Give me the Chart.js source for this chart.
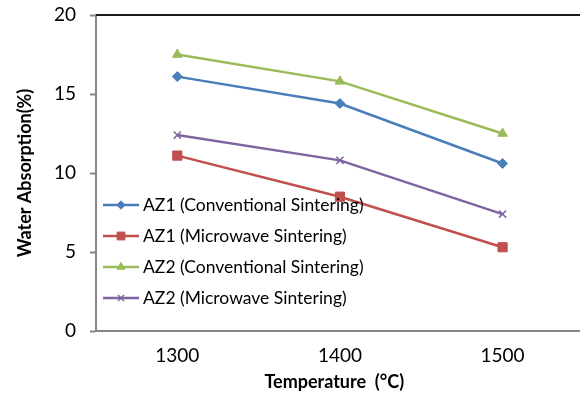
<!DOCTYPE html>
<html>
<head>
<meta charset="utf-8">
<script src="https://cdn.jsdelivr.net/npm/chart.js@4.4.0/dist/chart.umd.min.js"></script>
<style>
  html, body { margin: 0; padding: 0; background: #fff; }
  #wrap { width: 580px; height: 394px; }
</style>
</head>
<body>
<div id="wrap"><canvas id="chart" width="580" height="394"></canvas></div>
<script>
// values
const temps = [1300, 1400, 1500];
const seriesNames = [
  "AZ1 (Conventional Sintering)",
  "AZ1 (Microwave Sintering)",
  "AZ2 (Conventional Sintering)",
  "AZ2 (Microwave Sintering)",
];
const az1Conv = [16.1, 14.4, 10.6];
const az1Micro = [11.1, 8.5, 5.3];
const az2Conv = [17.5, 15.8, 12.5];
const az2Micro = [12.4, 10.8, 7.4];
const yTicks = [0, 5, 10, 15, 20];

const colors = ["#4A7EBB", "#C0504D", "#9BBB59", "#8064A2"];
const styles = ["rectRot", "rect", "triangle", "crossRot"];
const radii = [5, 6.5, 5.5, 5];
const allValues = [az1Conv, az1Micro, az2Conv, az2Micro];

const FONT = "Lato";

const datasets = allValues.map((vals, i) => ({
  label: seriesNames[i],
  data: vals.map((v, j) => ({ x: temps[j], y: v })),
  borderColor: colors[i],
  backgroundColor: colors[i],
  borderWidth: 2.5,
  pointStyle: styles[i],
  pointRadius: radii[i],
  pointBorderWidth: styles[i] === "crossRot" ? 1.5 : 1,
  pointBorderColor: colors[i],
  pointBackgroundColor: colors[i],
  tension: 0,
}));

// top frame line, axis run-out to the edge, legend inside the plot area
const extras = {
  id: "extras",
  afterDraw(chart) {
    const ctx = chart.ctx;
    const area = chart.chartArea;
    ctx.save();
    ctx.strokeStyle = "#1a1a1a";
    ctx.lineWidth = 2;
    ctx.beginPath();
    ctx.moveTo(area.left, area.top);
    ctx.lineTo(chart.width, area.top);
    ctx.stroke();
    ctx.strokeStyle = "#868686";
    ctx.beginPath();
    ctx.moveTo(area.right - 1, area.bottom);
    ctx.lineTo(chart.width, area.bottom);
    ctx.stroke();

    const x0 = 103, x1 = 139, rowTop = 205, rowGap = 31;
    chart.data.datasets.forEach((ds, i) => {
      const y = rowTop + i * rowGap;
      ctx.strokeStyle = ds.borderColor;
      ctx.lineWidth = 2.5;
      ctx.beginPath();
      ctx.moveTo(x0, y);
      ctx.lineTo(x1, y);
      ctx.stroke();
      ctx.fillStyle = ds.borderColor;
      ctx.lineWidth = ds.pointBorderWidth;
      Chart.helpers.drawPoint(ctx, {
        pointStyle: ds.pointStyle,
        radius: ds.pointRadius * 0.85,
        rotation: 0,
        borderWidth: ds.pointBorderWidth,
      }, (x0 + x1) / 2, y);
      ctx.fillStyle = "#000";
      ctx.font = "17.5px " + FONT;
      ctx.textBaseline = "middle";
      ctx.textAlign = "left";
      ctx.fillText(ds.label, 143, y);
    });
    ctx.restore();
  },
};

new Chart(document.getElementById("chart"), {
  type: "line",
  data: { datasets },
  options: {
    responsive: false,
    animation: false,
    layout: { padding: { top: 15, right: 0, left: 0, bottom: 0 } },
    plugins: {
      legend: { display: false },
      tooltip: { enabled: false },
    },
    scales: {
      x: {
        type: "linear",
        min: 1250,
        max: 1543,
        afterBuildTicks: (s) => { s.ticks = temps.map((v) => ({ value: v })); },
        afterFit: (s) => { s.height = 63; s.paddingLeft = 0; s.paddingRight = 0; },
        grid: { display: false, drawTicks: false },
        border: { display: true, color: "#868686", width: 2 },
        ticks: {
          color: "#000",
          font: { family: FONT, size: 19 },
          padding: 13,
          callback: (v) => String(v),
        },
        title: {
          display: true,
          text: "Temperature  (°C)",
          color: "#000",
          font: { family: FONT, size: 18, weight: "bold" },
          padding: 1,
        },
      },
      y: {
        min: 0,
        max: 20,
        afterBuildTicks: (s) => { s.ticks = yTicks.map((v) => ({ value: v })); },
        afterFit: (s) => { s.width = 96; s.paddingTop = 0; s.paddingBottom = 0; },
        grid: { drawOnChartArea: false, tickLength: 6, color: "#868686", tickColor: "#868686", tickWidth: 2 },
        border: { display: true, color: "#868686", width: 2 },
        ticks: {
          color: "#000",
          font: { family: FONT, size: 19 },
          padding: 14,
        },
        title: {
          display: true,
          text: "Water Absorption(%)",
          color: "#000",
          font: { family: FONT, size: 18, weight: "bold" },
          padding: 14,
        },
      },
    },
  },
  plugins: [extras],
});
</script>
</body>
</html>
